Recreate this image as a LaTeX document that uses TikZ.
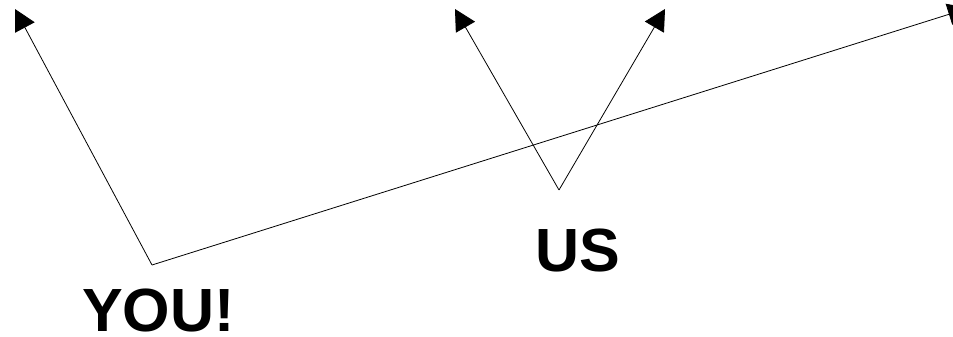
\documentclass[tikz,border=0pt]{standalone}
\usepackage{fontspec}
\setmainfont{Liberation Sans}
\usetikzlibrary{arrows.meta}

\begin{document}
\begin{tikzpicture}[x=1pt,y=-1pt,>={Triangle[length=21pt,width=22pt]},
    lbl/.style={inner sep=0pt,anchor=base west,font=\fontsize{61}{61}\selectfont\bfseries},
    ar/.style={->,line width=0.8pt,draw=black}]
  \useasboundingbox (0,0) rectangle (953,337);
  \coordinate (you) at (152,265);
  \coordinate (us) at (559,190);
  \coordinate (tipa) at (15,9);
  \coordinate (tipb) at (455,9);
  \coordinate (tipc) at (665,9);
  \coordinate (tipd) at (969,8);
  \node[lbl] (younode) at (82,331) {YOU!};
  \node[lbl] (usnode) at (535,271) {US};
  \draw[ar](you)--(tipa); \draw[ar](you)--(tipd);
  \draw[ar](us)--(tipb); \draw[ar](us)--(tipc);
\end{tikzpicture}
\end{document}
